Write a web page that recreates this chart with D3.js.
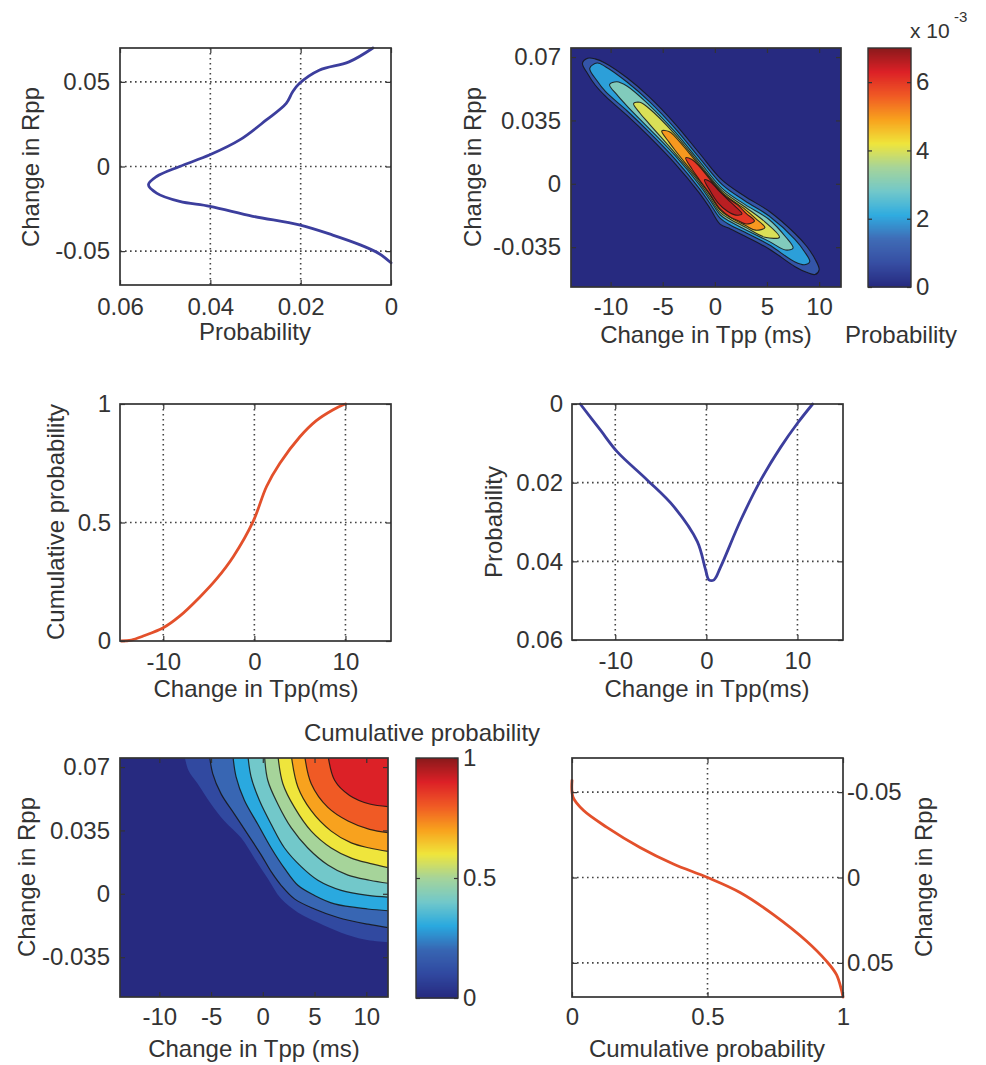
<!DOCTYPE html>
<html><head><meta charset="utf-8">
<script src="https://cdnjs.cloudflare.com/ajax/libs/d3/7.8.5/d3.min.js"></script>
<style>body{margin:0;background:#fff}</style>
</head><body>
<script>
// ---------------- DATA ----------------
// Panel 1: marginal probability of Change in Rpp (probability, Rpp)
const rppPdfProb = [0.0040,0.0093,0.0159,0.0203,0.0218,0.0232,0.0276,0.0335,0.0401,0.0468,0.0519,0.0537,0.0519,0.0468,0.0401,0.0306,0.0203,0.0129,0.0071,0.0026,0.0000];
const rppPdfVal  = [0.0700,0.0618,0.0569,0.0490,0.0440,0.0373,0.0275,0.0157,0.0069,0.0000,-0.0059,-0.0108,-0.0157,-0.0206,-0.0235,-0.0294,-0.0345,-0.0405,-0.0460,-0.0515,-0.0569];
// Panel 3: cumulative probability of Change in Tpp
const tppCdfT = [-14.6,-13.5,-12.2,-10.0,-8.2,-6.0,-4.15,-2.3,-0.13,1.34,2.8,5.0,6.8,8.6,9.7,10.0];
const tppCdfC = [0.000,0.004,0.021,0.056,0.105,0.185,0.262,0.357,0.505,0.652,0.750,0.862,0.930,0.975,0.996,1.000];
// Panel 4: marginal probability of Change in Tpp
const tppPdfT = [-13.84,-11.64,-9.8,-6.5,-3.57,-0.99,-0.08,0.29,0.84,1.57,3.78,5.98,8.18,10.0,11.67];
const tppPdfP = [0.0000,0.0066,0.0121,0.0193,0.0261,0.0350,0.0422,0.0447,0.0447,0.0414,0.0295,0.0193,0.0109,0.0049,0.0000];
// Panel 6: cumulative probability of Change in Rpp
const rppCdfC = [0.000,0.004,0.043,0.129,0.251,0.374,0.500,0.620,0.742,0.865,0.939,0.976,0.994,1.000];
const rppCdfR = [-0.0569,-0.0470,-0.0392,-0.0294,-0.0176,-0.0079,0.0000,0.0088,0.0216,0.0372,0.0490,0.0569,0.0657,0.0700];
// Panel 2: joint probability contours (x 1e-3), outlines as [Tpp, Rpp]
const jointPdfLevels = [1,2,3,4,5,6,6.6];
const jointPdfContours = [
 [[-12.7,0.0665],[-12.2,0.0693],[-11.5,0.069],[-10.5,0.0666],[-8.4,0.0584],[-6.3,0.048],[-3.8,0.033],[-1.5,0.017],[0.7,0.002],[2.9,-0.007],[5.2,-0.0152],[7.7,-0.0276],[8.8,-0.0345],[9.6,-0.0415],[10.0,-0.0475],[9.6,-0.0501],[8.8,-0.0489],[7.7,-0.0458],[5.2,-0.036],[2.9,-0.029],[1.5,-0.0249],[0.5,-0.0223],[-0.5,-0.0132],[-1.5,-0.005],[-3.8,0.011],[-6.3,0.026],[-8.4,0.0376],[-10.5,0.0484],[-11.5,0.0547],[-12.2,0.0608]],
 [[-12.0,0.0638],[-11.3,0.0667],[-10.5,0.0647],[-8.4,0.0561],[-6.3,0.0455],[-3.8,0.0305],[-1.5,0.0145],[0.7,-0.0005],[2.9,-0.0095],[5.2,-0.0178],[7.7,-0.0308],[8.6,-0.0375],[9.1,-0.043],[8.6,-0.0447],[7.7,-0.0432],[5.2,-0.0337],[2.9,-0.0268],[1.5,-0.0229],[0.5,-0.019],[-0.5,-0.0106],[-1.5,-0.0025],[-3.8,0.0135],[-6.3,0.0285],[-8.4,0.0402],[-10.5,0.051],[-11.3,0.0569]],
 [[-10.1,0.0548],[-9.4,0.0564],[-8.4,0.0539],[-6.3,0.0435],[-3.8,0.0285],[-1.5,0.0125],[0.7,-0.0025],[2.9,-0.0115],[5.2,-0.0197],[6.8,-0.0294],[7.5,-0.0355],[6.8,-0.0366],[5.2,-0.0318],[2.9,-0.0252],[1.5,-0.021],[0.5,-0.0171],[-0.5,-0.0086],[-1.5,-0.0005],[-3.8,0.0155],[-6.3,0.0305],[-8.4,0.0428],[-9.4,0.0492]],
 [[-7.8,0.0443],[-7.2,0.045],[-6.3,0.0416],[-3.8,0.0272],[-1.5,0.0112],[0.7,-0.0038],[2.9,-0.0128],[4.8,-0.021],[6.2,-0.0295],[4.8,-0.0295],[2.9,-0.0239],[1.5,-0.0197],[0.5,-0.0158],[-0.5,-0.0073],[-1.5,0.0008],[-3.8,0.0168],[-6.3,0.0331],[-7.2,0.0391]],
 [[-5.1,0.0292],[-4.4,0.0289],[-3.8,0.0259],[-1.5,0.0103],[0.7,-0.0047],[2.9,-0.0141],[3.9,-0.0191],[4.8,-0.0242],[3.9,-0.0256],[2.9,-0.0229],[1.5,-0.0187],[0.5,-0.0145],[-0.5,-0.006],[-1.5,0.0018],[-3.8,0.0184],[-4.4,0.023]],
 [[-2.8,0.0143],[-2.2,0.0134],[-1.5,0.0096],[0.7,-0.0054],[2.2,-0.0118],[3.0,-0.0163],[3.8,-0.0206],[3.0,-0.0222],[2.2,-0.0203],[1.5,-0.0184],[0.5,-0.0139],[-0.5,-0.0054],[-1.5,0.0024],[-2.2,0.0082]],
 [[-1.0,0.0022],[-0.5,0.0014],[0.3,-0.0033],[1.2,-0.0084],[2.0,-0.0127],[2.6,-0.0166],[2.0,-0.0173],[1.2,-0.0152],[0.3,-0.0105],[-0.5,-0.0035]]
];
// Panel 5: joint cumulative probability contour lines [Tpp, Rpp]
const jointCdfLevels = [0.1,0.2,0.3,0.4,0.5,0.6,0.7,0.8,0.9];
const jointCdfContours = [
 [[-7.6,0.077],[-7.19,0.0683],[-6.29,0.0608],[-5.0,0.0496],[-3.71,0.0402],[-2.1,0.0309],[-0.81,0.0197],[0.48,0.0084],[1.77,-0.0028],[3.39,-0.0103],[5.32,-0.0159],[7.58,-0.0215],[9.84,-0.0253],[12.5,-0.027]],
 [[-5.16,0.077],[-4.84,0.0664],[-4.03,0.0552],[-2.74,0.044],[-1.45,0.0328],[-0.16,0.0215],[0.81,0.0122],[1.77,0.0047],[3.06,-0.0028],[5.0,-0.0084],[7.26,-0.0131],[10.16,-0.0168],[12.5,-0.019]],
 [[-2.9,0.077],[-2.58,0.0646],[-1.77,0.0515],[-0.48,0.0384],[0.81,0.0253],[2.1,0.014],[3.39,0.0047],[5.0,-0.0009],[6.94,-0.0056],[10.16,-0.0084],[12.5,-0.0095]],
 [[-1.45,0.077],[-1.13,0.0646],[-0.32,0.0515],[0.81,0.0384],[2.1,0.0253],[3.71,0.015],[5.32,0.0075],[7.58,0.0019],[10.16,-0.0009],[12.5,-0.002]],
 [[0.16,0.077],[0.48,0.0627],[1.45,0.0496],[2.74,0.0365],[4.35,0.0253],[6.29,0.0159],[8.23,0.0103],[10.32,0.0075],[12.5,0.0055]],
 [[1.45,0.077],[1.94,0.0608],[3.06,0.0477],[4.68,0.0346],[6.61,0.0253],[8.55,0.0197],[10.32,0.0168],[12.5,0.014]],
 [[2.74,0.077],[3.39,0.059],[4.68,0.0459],[6.61,0.0346],[8.55,0.0281],[10.32,0.0253],[12.5,0.023]],
 [[4.03,0.077],[4.68,0.0608],[6.29,0.0477],[8.23,0.0402],[10.32,0.0356],[12.5,0.0335]],
 [[6.29,0.077],[6.94,0.0627],[8.39,0.0543],[10.32,0.0496],[12.5,0.048]]
];
// Tick values / labels
const p1XTicks=[0.06,0.04,0.02,0], p1XLabels=["0.06","0.04","0.02","0"];
const rppTicks=[-0.05,0,0.05], rppLabels=["-0.05","0","0.05"];
const mapTTicks=[-10,-5,0,5,10], mapTLabels=["-10","-5","0","5","10"];
const mapRTicks=[-0.035,0,0.035,0.07], mapRLabels=["-0.035","0","0.035","0.07"];
const tppTicks=[-10,0,10], tppLabels=["-10","0","10"];
const cdfTicks=[0,0.5,1], cdfLabels=["0","0.5","1"];
const p4YTicks=[0,0.02,0.04,0.06], p4YLabels=["0","0.02","0.04","0.06"];
const cb1Ticks=[0,2,4,6], cb1Labels=["0","2","4","6"];

// ---------------- DRAWING ----------------
const FONT='"Liberation Sans", Arial, Helvetica, sans-serif';
const FS=24, TXT='#333';
const svg=d3.select('body').append('svg').attr('width',986).attr('height',1065);
svg.append('rect').attr('width',986).attr('height',1065).attr('fill','#fff');

const jet=d3.scaleLinear()
 .domain([0,0.1,0.2,0.3,0.4,0.5,0.6,0.7,0.8,0.9,1])
 .range(['#272a80','#3149a0','#3866b3','#2aa9df','#72c8ca','#a6d49a','#efe53c','#f8a21e','#f05a25','#dc2127','#8a1a1c'])
 .interpolate(d3.interpolateRgb).clamp(true);

function ext(s){const r=s.range();return [Math.min(r[0],r[1]),Math.max(r[0],r[1])];}
function styleAxis(sel){
  sel.attr('font-size',FS).attr('font-family',FONT);
  sel.select('.domain').remove();
  sel.selectAll('.tick line').attr('stroke','#333').attr('stroke-width',1.2);
  sel.selectAll('.tick text').attr('fill',TXT);
}
function grid(g,x,y,xg,yg){
  const [x0,x1]=ext(x),[y0,y1]=ext(y);
  g.selectAll(null).data(xg).enter().append('line')
   .attr('x1',d=>x(d)).attr('x2',d=>x(d)).attr('y1',y0).attr('y2',y1)
   .attr('stroke','#444').attr('stroke-width',1.6).attr('stroke-dasharray','1.6,3.4');
  g.selectAll(null).data(yg).enter().append('line')
   .attr('y1',d=>y(d)).attr('y2',d=>y(d)).attr('x1',x0).attr('x2',x1)
   .attr('stroke','#444').attr('stroke-width',1.6).attr('stroke-dasharray','1.6,3.4');
}
function axes(g,x,y,o){
  const [x0,x1]=ext(x),[y0,y1]=ext(y);
  g.append('g').attr('transform',`translate(0,${y1})`)
   .call(d3.axisBottom(x).tickValues(o.xt).tickFormat((d,i)=>o.xl[i]).tickSizeInner(-5).tickSizeOuter(0).tickPadding(o.xp))
   .call(styleAxis);
  g.append('g').attr('transform',`translate(0,${y0})`)
   .call(d3.axisTop(x).tickValues(o.xt).tickFormat('').tickSizeInner(-5).tickSizeOuter(0)).call(styleAxis);
  if(o.yRight){
    g.append('g').attr('transform',`translate(${x1},0)`)
     .call(d3.axisRight(y).tickValues(o.yt).tickFormat((d,i)=>o.yl[i]).tickSizeInner(-5).tickSizeOuter(0).tickPadding(o.yp)).call(styleAxis);
    g.append('g').attr('transform',`translate(${x0},0)`)
     .call(d3.axisLeft(y).tickValues(o.yt).tickFormat('').tickSizeInner(-5).tickSizeOuter(0)).call(styleAxis);
  } else {
    g.append('g').attr('transform',`translate(${x0},0)`)
     .call(d3.axisLeft(y).tickValues(o.yt).tickFormat((d,i)=>o.yl[i]).tickSizeInner(-5).tickSizeOuter(0).tickPadding(o.yp)).call(styleAxis);
    g.append('g').attr('transform',`translate(${x1},0)`)
     .call(d3.axisRight(y).tickValues(o.yt).tickFormat('').tickSizeInner(-5).tickSizeOuter(0)).call(styleAxis);
  }
  g.append('rect').attr('x',x0).attr('y',y0).attr('width',x1-x0).attr('height',y1-y0)
   .attr('fill','none').attr('stroke','#333').attr('stroke-width',1.7);
}
function label(g,txt,x,y,rot,anchor,size){
  const t=g.append('text').text(txt).attr('font-family',FONT).attr('font-size',size||FS).attr('fill',TXT)
   .attr('text-anchor',anchor||'middle');
  if(rot) t.attr('transform',`translate(${x},${y}) rotate(${rot})`); else t.attr('x',x).attr('y',y);
  return t;
}
function curve(g,x,y,xs,ys,color){
  const pts=xs.map((d,i)=>[d,ys[i]]);
  g.append('path').datum(pts).attr('fill','none').attr('stroke',color).attr('stroke-width',2.8)
   .attr('stroke-linejoin','round').attr('stroke-linecap','round')
   .attr('d',d3.line().x(d=>x(d[0])).y(d=>y(d[1])).curve(d3.curveCatmullRom.alpha(0.5)));
}
function colorbar(g,x0,x1,yScale,vmax,ticks,labels){
  const [ya,yb]=ext(yScale);
  const steps=d3.range(0,vmax,vmax/240);
  g.selectAll(null).data(steps).enter().append('rect')
   .attr('x',x0).attr('width',x1-x0)
   .attr('y',d=>yScale(d+vmax/240)).attr('height',d=>yScale(d)-yScale(d+vmax/240)+0.6)
   .attr('fill',d=>jet(d/vmax));
  g.append('g').attr('transform',`translate(${x1},0)`)
   .call(d3.axisRight(yScale).tickValues(ticks).tickFormat((d,i)=>labels[i]).tickSizeInner(-4).tickSizeOuter(0).tickPadding(5)).call(styleAxis);
  g.append('g').attr('transform',`translate(${x0},0)`)
   .call(d3.axisLeft(yScale).tickValues(ticks).tickFormat('').tickSizeInner(-4).tickSizeOuter(0)).call(styleAxis);
  g.append('rect').attr('x',x0).attr('y',ya).attr('width',x1-x0).attr('height',yb-ya)
   .attr('fill','none').attr('stroke','#333').attr('stroke-width',1.4);
}
const BLUE='#3c3e9d', ORANGE='#e3502b';

// ----- Panel 1 -----
{
  const g=svg.append('g');
  const x=d3.scaleLinear().domain([0.06,0]).range([120,391]);
  const y=d3.scaleLinear().domain([-0.07,0.07]).range([285,48]);
  grid(g,x,y,[0.04,0.02],[-0.05,0,0.05]);
  curve(g,x,y,rppPdfProb,rppPdfVal,BLUE);
  axes(g,x,y,{xt:p1XTicks,xl:p1XLabels,xp:13,yt:rppTicks,yl:rppLabels,yp:10});
  label(g,'Probability',255,340);
  label(g,'Change in Rpp',39,167,-90);
}
// ----- Panel 2 -----
{
  const g=svg.append('g');
  const x=d3.scaleLinear().domain([-13.8,12.1]).range([571,841]);
  const y=d3.scaleLinear().domain([-0.057,0.075]).range([287,48]);
  const clip=svg.append('clipPath').attr('id','clip2');
  clip.append('rect').attr('x',571).attr('y',48).attr('width',270).attr('height',239);
  const m=g.append('g').attr('clip-path','url(#clip2)');
  m.append('rect').attr('x',571).attr('y',48).attr('width',270).attr('height',239).attr('fill',jet(0));
  const ln=d3.line().x(d=>x(d[0])).y(d=>y(d[1])).curve(d3.curveCatmullRomClosed.alpha(0.5));
  m.selectAll(null).data(jointPdfContours).enter().append('path')
   .attr('d',ln).attr('fill',(d,i)=>jet(jointPdfLevels[i]/7))
   .attr('stroke','#141414').attr('stroke-width',1.1).attr('stroke-opacity',0.85);
  axes(g,x,y,{xt:mapTTicks,xl:mapTLabels,xp:11,yt:mapRTicks,yl:mapRLabels,yp:10});
  label(g,'Change in Tpp (ms)',706,343);
  label(g,'Change in Rpp',481,167,-90);
  const yc=d3.scaleLinear().domain([0,7]).range([287,48]);
  colorbar(g,868,911,yc,7,cb1Ticks,cb1Labels);
  label(g,'Probability',901,343);
  label(g,'x 10',910,38,0,'start',21);
  label(g,'-3',954,22,0,'start',15);
}
// ----- Panel 3 -----
{
  const g=svg.append('g');
  const x=d3.scaleLinear().domain([-14.75,15]).range([120,391]);
  const y=d3.scaleLinear().domain([0,1]).range([641,404]);
  grid(g,x,y,tppTicks,[0.5]);
  curve(g,x,y,tppCdfT,tppCdfC,ORANGE);
  axes(g,x,y,{xt:tppTicks,xl:tppLabels,xp:12,yt:cdfTicks,yl:cdfLabels,yp:9});
  label(g,'Change in Tpp(ms)',256,697);
  label(g,'Cumulative probability',64,522,-90);
}
// ----- Panel 4 -----
{
  const g=svg.append('g');
  const x=d3.scaleLinear().domain([-14.75,15]).range([572,843]);
  const y=d3.scaleLinear().domain([0,0.06]).range([404,640]);
  grid(g,x,y,tppTicks,[0.02,0.04]);
  curve(g,x,y,tppPdfT,tppPdfP,BLUE);
  axes(g,x,y,{xt:tppTicks,xl:tppLabels,xp:12,yt:p4YTicks,yl:p4YLabels,yp:9});
  label(g,'Change in Tpp(ms)',707,697);
  label(g,'Probability',502,522,-90);
}
// ----- Panel 5 -----
{
  const g=svg.append('g');
  const x=d3.scaleLinear().domain([-13.8,12.1]).range([120,388]);
  const y=d3.scaleLinear().domain([-0.057,0.075]).range([997,758]);
  const clip=svg.append('clipPath').attr('id','clip5');
  clip.append('rect').attr('x',120).attr('y',758).attr('width',268).attr('height',239);
  const m=g.append('g').attr('clip-path','url(#clip5)');
  m.append('rect').attr('x',120).attr('y',758).attr('width',268).attr('height',239).attr('fill',jet(0));
  const ln=d3.line().x(d=>x(d[0])).y(d=>y(d[1])).curve(d3.curveCatmullRom.alpha(0.5));
  jointCdfContours.forEach((pts,i)=>{
    const last=pts[pts.length-1], first=pts[0];
    const d=ln(pts)+`L${x(13.5)},${y(last[1])}L${x(13.5)},${y(0.085)}L${x(first[0])},${y(0.085)}Z`;
    m.append('path').attr('d',d).attr('fill',jet(jointCdfLevels[i]));
  });
  jointCdfContours.forEach((pts,i)=>{
    if(i===0) return;
    m.append('path').attr('d',ln(pts)).attr('fill','none').attr('stroke','#141414').attr('stroke-width',1.2).attr('stroke-opacity',0.85);
  });
  axes(g,x,y,{xt:mapTTicks,xl:mapTLabels,xp:11,yt:mapRTicks,yl:mapRLabels,yp:10});
  label(g,'Change in Tpp (ms)',254,1057);
  label(g,'Change in Rpp',35,877,-90);
  const yc=d3.scaleLinear().domain([0,1]).range([998,758]);
  colorbar(g,416,458,yc,1,cdfTicks,cdfLabels);
  label(g,'Cumulative probability',422,741);
}
// ----- Panel 6 -----
{
  const g=svg.append('g');
  const x=d3.scaleLinear().domain([0,1]).range([572,843]);
  const y=d3.scaleLinear().domain([-0.07,0.07]).range([758,997]);
  grid(g,x,y,[0.5],rppTicks);
  curve(g,x,y,rppCdfC,rppCdfR,ORANGE);
  axes(g,x,y,{xt:cdfTicks,xl:cdfLabels,xp:11,yt:rppTicks,yl:rppLabels,yp:4,yRight:true});
  label(g,'Cumulative probability',707,1057);
  label(g,'Change in Rpp',932,877,-90);
}
</script>
</body></html>
